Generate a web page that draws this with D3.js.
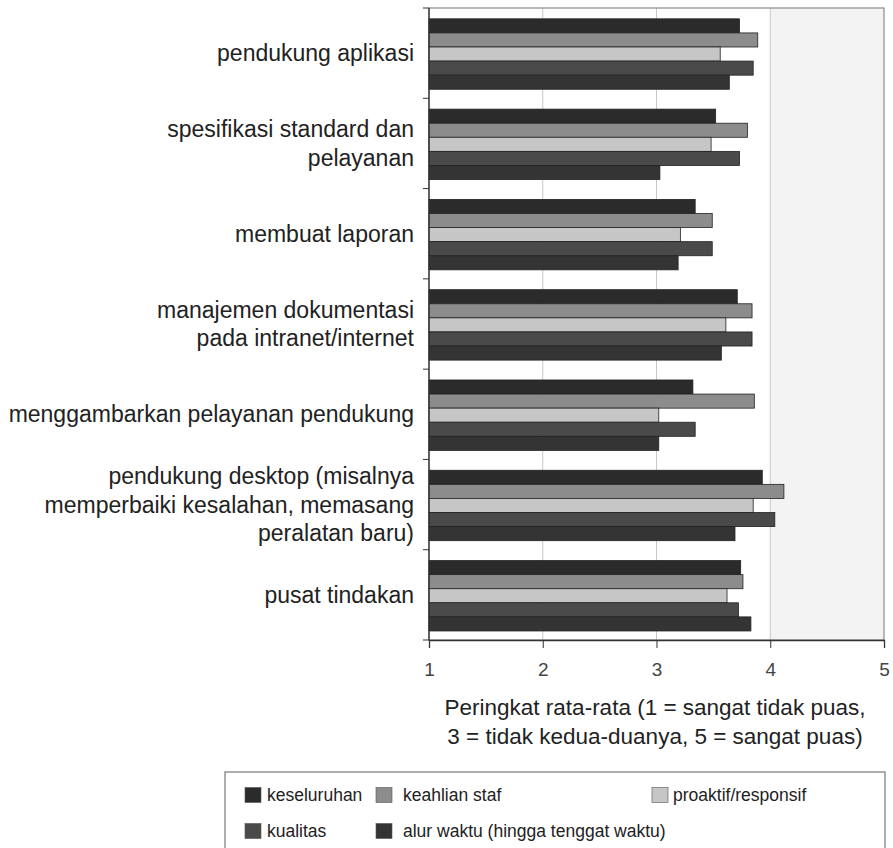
<!DOCTYPE html>
<html><head><meta charset="utf-8">
<script src="https://cdn.jsdelivr.net/npm/d3@7"></script>
<style>body{margin:0;background:#fff}svg{display:block}text{font-family:"Liberation Sans",Arial,sans-serif}</style>
</head><body>
<svg id="c" width="893" height="848"></svg>
<script>
const categories = [
  ["pendukung aplikasi"],
  ["spesifikasi standard dan","pelayanan"],
  ["membuat laporan"],
  ["manajemen dokumentasi","pada intranet/internet"],
  ["menggambarkan pelayanan pendukung"],
  ["pendukung desktop (misalnya","memperbaiki kesalahan, memasang","peralatan baru)"],
  ["pusat tindakan"]
];
const series = ["keseluruhan","keahlian staf","proaktif/responsif","kualitas","alur waktu (hingga tenggat waktu)"];
const keseluruhan = [3.73,3.52,3.34,3.71,3.32,3.93,3.74];
const keahlianStaf = [3.89,3.80,3.49,3.84,3.86,4.12,3.76];
const proaktif = [3.56,3.48,3.21,3.61,3.02,3.85,3.62];
const kualitas = [3.85,3.73,3.49,3.84,3.34,4.04,3.72];
const alurWaktu = [3.64,3.03,3.19,3.57,3.02,3.69,3.83];
const xTicks = [1,2,3,4,5];
const colors = ["#2b2b2b","#8c8c8c","#c6c6c6","#4a4a4a","#343434"];
const values = [keseluruhan,keahlianStaf,proaktif,kualitas,alurWaktu];

const svg = d3.select("#c");
const L=429, R=884, T=8, B=640;
const x = d3.scaleLinear().domain([1,5]).range([L,R]);
const y0 = d3.scaleBand().domain(d3.range(categories.length)).range([T,B]);
const bw = y0.bandwidth();
const y1 = d3.scaleBand().domain(d3.range(series.length)).range([bw*0.12, bw*0.9]);

svg.append("rect").attr("x",x(4)).attr("y",T).attr("width",x(5)-x(4)).attr("height",B-T).attr("fill","#f3f3f3");
svg.append("g").selectAll("line").data([2,3,4]).join("line")
  .attr("x1",d=>x(d)).attr("x2",d=>x(d)).attr("y1",T).attr("y2",B)
  .attr("stroke","#c8c8c8").attr("stroke-width",1);
svg.append("rect").attr("x",L).attr("y",T).attr("width",R-L).attr("height",B-T)
  .attr("fill","none").attr("stroke","#8a8a8a").attr("stroke-width",1.2);

const g = svg.append("g");
categories.forEach((c,i)=>{
  series.forEach((s,j)=>{
    g.append("rect")
      .attr("x",x(1)).attr("y",y0(i)+y1(j))
      .attr("width",x(values[j][i])-x(1)).attr("height",y1.bandwidth())
      .attr("fill",colors[j]).attr("stroke","#222").attr("stroke-width",0.8);
  });
});

svg.append("line").attr("x1",L).attr("x2",L).attr("y1",T).attr("y2",B).attr("stroke","#333").attr("stroke-width",1.3);
svg.append("g").selectAll("line").data(d3.range(categories.length+1)).join("line")
  .attr("x1",L-6).attr("x2",L).attr("y1",d=>T+d*bw).attr("y2",d=>T+d*bw).attr("stroke","#333");
const xa = svg.append("g").attr("transform",`translate(0,${B})`)
  .call(d3.axisBottom(x).tickValues(xTicks).tickSize(8).tickPadding(15).tickFormat(d3.format("d")));
xa.attr("font-size",null).attr("font-family",null);
xa.select(".domain").attr("stroke","#333").attr("stroke-width",1.3);
xa.selectAll(".tick line").attr("stroke","#333");
xa.selectAll("text").style("font-size","19px").attr("fill","#444");

const lh = 28.5;
categories.forEach((lines,i)=>{
  const cy = y0(i)+bw/2;
  const t = svg.append("text").attr("text-anchor","end").attr("font-size",23).attr("fill","#222");
  lines.forEach((ln,k)=>{
    t.append("tspan").attr("x",414).attr("y",cy + (k-(lines.length-1)/2)*lh).attr("dy","0.35em").text(ln);
  });
});

const titleLines = ["Peringkat rata-rata (1 = sangat tidak puas,","3 = tidak kedua-duanya, 5 = sangat puas)"];
titleLines.forEach((t,k)=>{
  svg.append("text").attr("x",655).attr("y",707+k*29).attr("dy","0.35em").attr("text-anchor","middle")
    .attr("font-size",22.5).attr("fill","#222").text(t);
});

svg.append("rect").attr("x",225).attr("y",772).attr("width",660).attr("height",90)
  .attr("fill","#fff").attr("stroke","#777").attr("stroke-width",1.2);
const legendPos = [[245,795,22],[376,795,27],[652,795,21],[245,831,22],[376,831,27]];
series.forEach((s,j)=>{
  const [lx,ly,off] = legendPos[j];
  svg.append("rect").attr("x",lx).attr("y",ly-7.5).attr("width",16).attr("height",15)
    .attr("fill",colors[j]).attr("stroke","#555").attr("stroke-width",0.6);
  svg.append("text").attr("x",lx+off).attr("y",ly).attr("dy","0.35em").attr("font-size",17.5).attr("fill","#222").text(s);
});
</script>
</body></html>
